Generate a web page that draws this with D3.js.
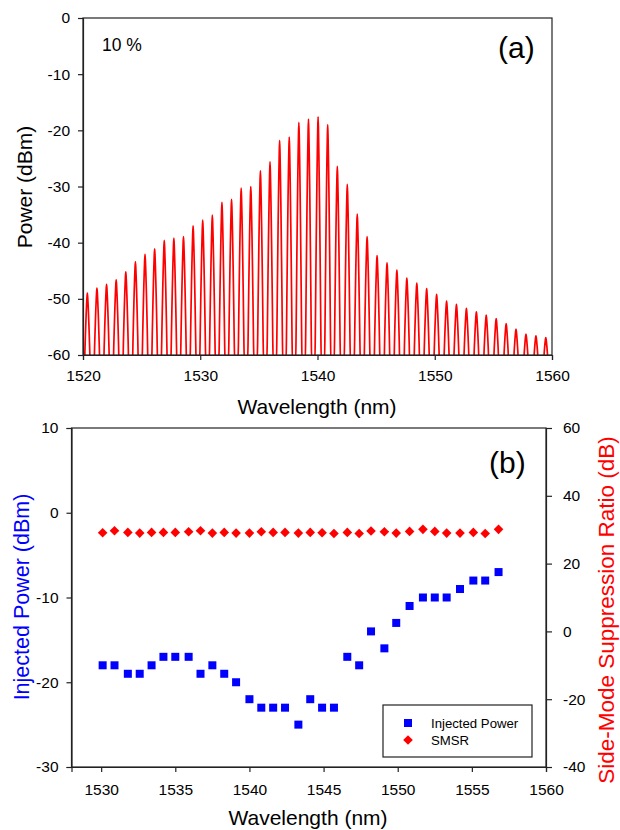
<!DOCTYPE html>
<html><head><meta charset="utf-8">
<script src="https://cdn.jsdelivr.net/npm/d3@7"></script>
<style>body{margin:0;background:#fff}svg{display:block;font-family:"Liberation Sans",Arial,sans-serif}</style>
</head><body>
<script>
// Panel (a): spectrum peaks
const peakWavelengths = [1520.37,1521.19,1522.01,1522.83,1523.65,1524.47,1525.29,1526.11,1526.93,1527.75,1528.57,1529.39,1530.21,1531.03,1531.85,1532.67,1533.49,1534.31,1535.13,1535.95,1536.77,1537.59,1538.41,1539.23,1540.05,1540.87,1541.69,1542.54,1543.39,1544.23,1545.08,1545.93,1546.77,1547.62,1548.47,1549.31,1550.16,1551.01,1551.85,1552.70,1553.55,1554.39,1555.24,1556.09,1556.93,1557.78,1558.63,1559.47];
const peakPowers = [-49.0,-48.1,-47.4,-46.6,-45.2,-43.4,-42.1,-41.1,-39.6,-39.2,-38.9,-37.0,-36.0,-35.1,-32.8,-32.3,-30.3,-30.0,-27.2,-25.6,-21.8,-21.2,-18.6,-18.0,-17.6,-19.0,-26.4,-29.6,-34.9,-38.9,-42.3,-43.6,-44.9,-46.3,-47.2,-48.2,-49.2,-50.4,-51.0,-51.7,-52.3,-52.9,-53.5,-54.4,-55.4,-56.3,-56.6,-56.9];
const topXTicks = [1520,1530,1540,1550,1560];
const topYTicks = [0,-10,-20,-30,-40,-50,-60];

// Panel (b)
const wavelengths = [1530.1,1530.9,1531.8,1532.6,1533.4,1534.2,1535.0,1535.9,1536.7,1537.5,1538.3,1539.1,1540.0,1540.8,1541.6,1542.4,1543.3,1544.1,1544.9,1545.7,1546.6,1547.4,1548.2,1549.1,1549.9,1550.8,1551.7,1552.5,1553.3,1554.2,1555.1,1555.9,1556.8];
const injectedPower = [-18,-18,-19,-19,-18,-17,-17,-17,-19,-18,-19,-20,-22,-23,-23,-23,-25,-22,-23,-23,-17,-18,-14,-16,-13,-11,-10,-10,-10,-9,-8,-8,-7];
const smsr = [29.1,29.7,29.2,29.0,29.2,29.2,29.2,29.4,29.7,29.0,29.2,29.0,29.0,29.4,29.2,29.2,29.0,29.2,29.1,28.9,29.2,28.9,29.6,29.4,29.0,29.5,30.1,29.5,29.0,29.0,29.2,28.9,30.1];
const botXTicks = [1530,1535,1540,1545,1550,1555,1560];
const leftYTicks = [10,0,-10,-20,-30];
const rightYTicks = [60,40,20,0,-20,-40];

const svg = d3.select("body").append("svg").attr("width",620).attr("height",830);
const axisColor = "#222";

function styleAxis(g){
  g.selectAll("path.domain").attr("stroke",axisColor).attr("stroke-width",1.2);
  g.selectAll(".tick line").attr("stroke",axisColor).attr("stroke-width",1.2);
  g.selectAll(".tick text").attr("fill","#000").style("font-size","15.5px").style("font-family","Liberation Sans, Arial, sans-serif");
}

// ---------- Panel (a)
const xa = d3.scaleLinear().domain([1520,1560]).range([83,552]);
const ya = d3.scaleLinear().domain([-60,0]).range([355,18]);

svg.append("defs").append("clipPath").attr("id","clipA")
  .append("rect").attr("x",83).attr("y",18).attr("width",469).attr("height",337);

// spectrum path built from peak data
const pts = [];
const hw = 0.27, floor = -64;
peakWavelengths.forEach((w,i)=>{
  const p = peakPowers[i];
  for(let k=-10;k<=10;k++){
    const d = k/10*hw*1.25;
    const r = Math.abs(d)/hw;
    let v = r>=1 ? floor : p - (p-floor)*Math.pow(r,1.4);
    pts.push([w+d, Math.max(-61,v)]);
  }
});
pts.sort((a,b)=>a[0]-b[0]);
const line = d3.line().x(d=>xa(d[0])).y(d=>ya(d[1])).curve(d3.curveMonotoneX);
svg.append("path").attr("d",line(pts)).attr("fill","none").attr("stroke","#ff0000")
  .attr("stroke-width",1.7).attr("clip-path","url(#clipA)");

// frame
svg.append("rect").attr("x",83).attr("y",18).attr("width",469).attr("height",337)
  .attr("fill","none").attr("stroke",axisColor).attr("stroke-width",1.2);

const gxa = svg.append("g").attr("transform","translate(0,355)")
  .call(d3.axisBottom(xa).tickValues(topXTicks).tickSize(5).tickPadding(10).tickFormat(d3.format("d")));
styleAxis(gxa);
const gya = svg.append("g").attr("transform","translate(83,0)")
  .call(d3.axisLeft(ya).tickValues(topYTicks).tickSize(5).tickPadding(8).tickFormat(d=>String(d)));
styleAxis(gya);

svg.append("text").attr("x",317).attr("y",414).attr("text-anchor","middle")
  .style("font-size","21px").text("Wavelength (nm)");
svg.append("text").attr("transform","translate(32,187) rotate(-90)").attr("text-anchor","middle")
  .style("font-size","21px").text("Power (dBm)");
svg.append("text").attr("x",102).attr("y",51).style("font-size","17.5px").text("10 %");
svg.append("text").attr("x",498).attr("y",58).style("font-size","30px").text("(a)");

// ---------- Panel (b)
const xb = d3.scaleLinear().domain([1528,1560]).range([71.5,546]);
const yl = d3.scaleLinear().domain([-30,10]).range([767,428]);
const yr = d3.scaleLinear().domain([-40,60]).range([767,428]);

svg.append("rect").attr("x",71.5).attr("y",428).attr("width",546-71.5).attr("height",339)
  .attr("fill","none").attr("stroke",axisColor).attr("stroke-width",1.2);

const gxb = svg.append("g").attr("transform","translate(0,767)")
  .call(d3.axisBottom(xb).tickValues(botXTicks).tickSize(5).tickPadding(12).tickFormat(d3.format("d")));
styleAxis(gxb);
const gyl = svg.append("g").attr("transform","translate(71.5,0)")
  .call(d3.axisLeft(yl).tickValues(leftYTicks).tickSize(5).tickPadding(8).tickFormat(d=>String(d)));
styleAxis(gyl);
const gyr = svg.append("g").attr("transform","translate(546,0)")
  .call(d3.axisRight(yr).tickValues(rightYTicks).tickSize(6).tickPadding(11).tickFormat(d=>String(d)));
styleAxis(gyr);

// SMSR diamonds
const diamondPath = "M0,-4.8L4.8,0L0,4.8L-4.8,0Z";
svg.append("g").selectAll("path").data(smsr).join("path")
  .attr("d",diamondPath)
  .attr("transform",(d,i)=>`translate(${xb(wavelengths[i])},${yr(d)})`)
  .attr("fill","#ff0000");
// Injected power squares
svg.append("g").selectAll("rect").data(injectedPower).join("rect")
  .attr("x",(d,i)=>xb(wavelengths[i])-4).attr("y",d=>yl(d)-4)
  .attr("width",8).attr("height",8).attr("fill","#0000ff");

// legend
const lg = svg.append("g");
lg.append("rect").attr("x",383).attr("y",705).attr("width",149).attr("height",52)
  .attr("fill","#fff").attr("stroke",axisColor).attr("stroke-width",1.2);
lg.append("rect").attr("x",404).attr("y",719).attr("width",8).attr("height",8).attr("fill","#0000ff");
lg.append("path").attr("d",diamondPath).attr("transform","translate(408,740)").attr("fill","#ff0000");
lg.append("text").attr("x",431).attr("y",728).style("font-size","13.2px").text("Injected Power");
lg.append("text").attr("x",431).attr("y",745).style("font-size","13.2px").text("SMSR");

svg.append("text").attr("x",308).attr("y",825).attr("text-anchor","middle")
  .style("font-size","21px").text("Wavelength (nm)");
svg.append("text").attr("transform","translate(29,597) rotate(-90)").attr("text-anchor","middle")
  .attr("fill","#0000ff").style("font-size","21.5px").text("Injected Power (dBm)");
svg.append("text").attr("transform","translate(614,610) rotate(-90)").attr("text-anchor","middle")
  .attr("fill","#ff0000").style("font-size","22.5px").text("Side-Mode Suppression Ratio (dB)");
svg.append("text").attr("x",489).attr("y",473).style("font-size","30px").text("(b)");
</script>
</body></html>
